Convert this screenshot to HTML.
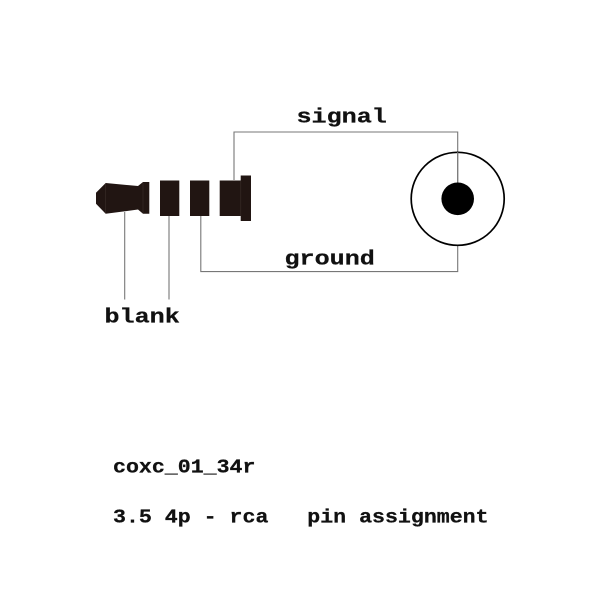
<!DOCTYPE html>
<html>
<head>
<meta charset="utf-8">
<style>
html,body{margin:0;padding:0;background:#fff;}
svg{display:block;}
text{font-family:"Liberation Mono",monospace;font-weight:bold;fill:#111;stroke:#111;stroke-width:.3;white-space:pre;}
</style>
</head>
<body>
<svg width="600" height="600" viewBox="0 0 600 600" xmlns="http://www.w3.org/2000/svg">
<rect width="600" height="600" fill="#fff"/>
<g fill="none" stroke="#777" stroke-width="1.1">
<path d="M234 180V132H457.7V198"/>
<path d="M200.8 216V271.6H457.7V246"/>
<path d="M124.7 212V299.5"/>
<path d="M169 216V299.5"/>
</g>
<g fill="#211512">
<path d="M96 192.700L105.700 183L138 186L143 182H149.300V213.800H143L138 209.500L105.700 213.800L96 203.700Z"/>
<rect x="160" y="180.500" width="19.300" height="35.500"/>
<rect x="190" y="180.500" width="19.300" height="35.500"/>
<rect x="219.700" y="180.500" width="22" height="35.500"/>
<rect x="240.700" y="175.500" width="10.300" height="45.500"/>
</g>
<g stroke="#3a2e2b" stroke-width="0.6" fill="none">
<path d="M105.700 183.500V213.300"/>
<path d="M143 182.500V213.300"/>
<path d="M240.800 181V216"/>
</g>
<circle cx="457.700" cy="198.800" r="46.500" fill="none" stroke="#000" stroke-width="1.700"/>
<path d="M457.700 152V198" stroke="#777" stroke-width="1.100" fill="none"/>
<circle cx="457.700" cy="198.800" r="16.300" fill="#000"/>
<text transform="translate(296.500 122.500) scale(1 .81)" font-size="25.100">signal</text>
<text transform="translate(284.500 264.500) scale(1 .81)" font-size="25.100">ground</text>
<text transform="translate(104.500 322.700) scale(1 .81)" font-size="25.100">blank</text>
<text transform="translate(113 472.700) scale(1 .9)" font-size="21.600">coxc_01_34r</text>
<text transform="translate(113 522.700) scale(1 .9)" font-size="21.600">3.5 4p - rca   pin assignment</text>
</svg>
</body>
</html>
